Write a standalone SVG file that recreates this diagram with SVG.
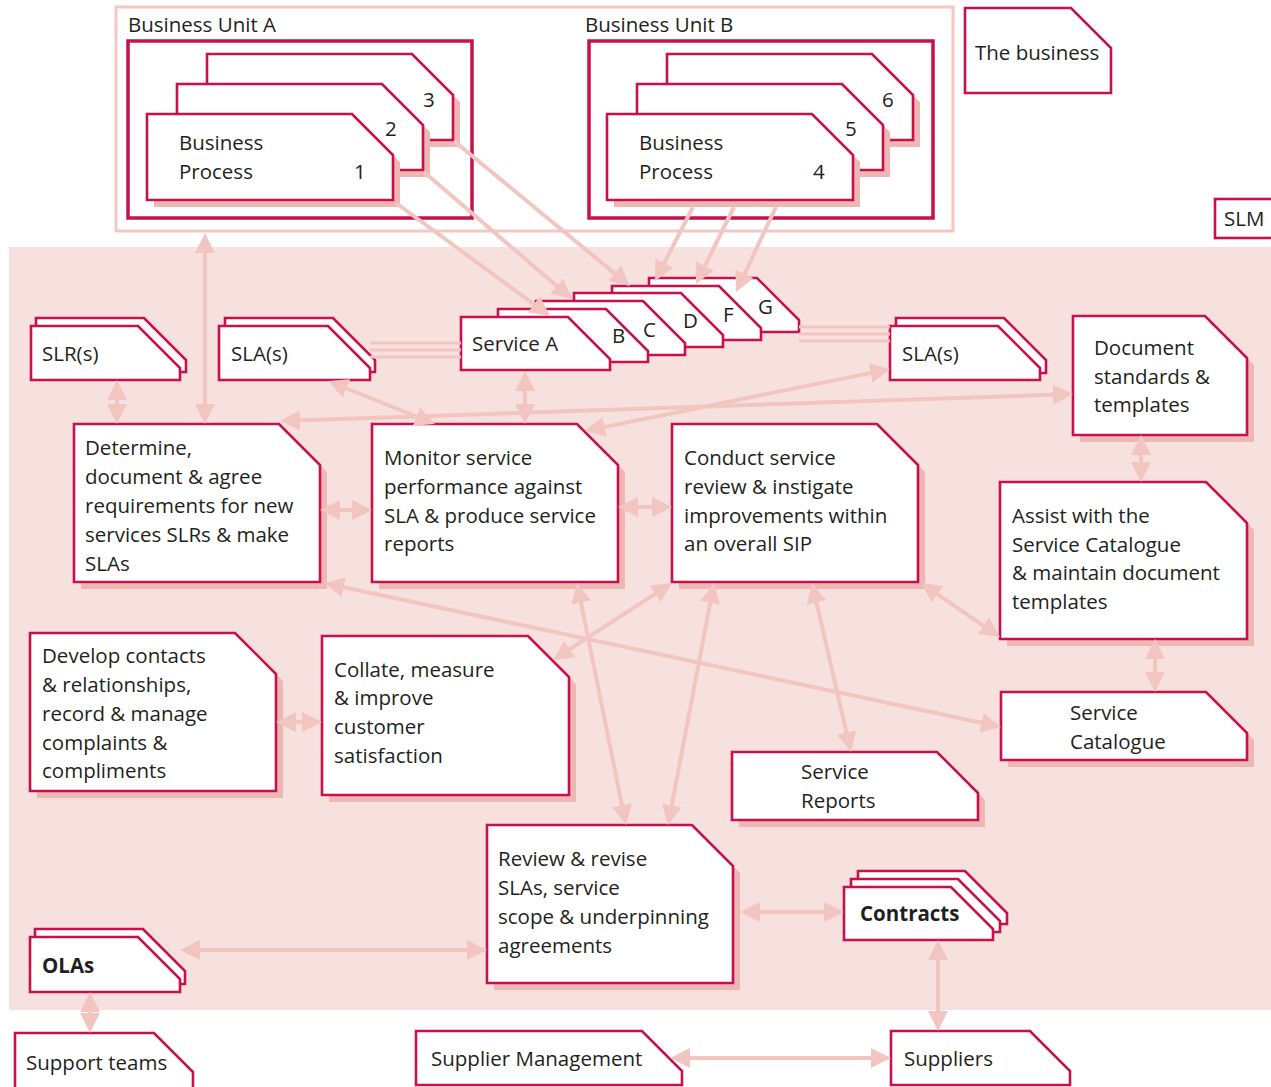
<svg xmlns="http://www.w3.org/2000/svg" width="1271" height="1087" viewBox="0 0 1271 1087">
<style>
.card{fill:#fff;stroke:#c8104a;stroke-width:2.6}
.sh{fill:#efb7b3}
.bu{fill:none;stroke:#c8104a;stroke-width:3.5}
.frame{fill:#fff;stroke:#f3c8c4;stroke-width:3}
text{font-family:"Open Sans","Noto Sans",sans-serif;font-size:20.5px;fill:#231f20}
.b{font-weight:bold}
.conn{stroke:#f2c5c1;stroke-width:4;fill:none;marker-start:url(#ah);marker-end:url(#ah)}
.one{marker-start:none}
.thin{stroke:#f2c5c1;stroke-width:2.8;fill:none}
</style>
<defs>
<marker id="ah" viewBox="0 0 20 20" refX="12" refY="10" markerWidth="20" markerHeight="20" markerUnits="userSpaceOnUse" orient="auto-start-reverse"><path d="M0,0 L20,10 L0,20 z" fill="#f2c5c1"/></marker>
</defs>
<rect x="0" y="0" width="1271" height="1087" fill="#fff"/>
<rect id="slm-area" x="9" y="247" width="1262" height="763" fill="#f7e1df"/>

<g id="the-business-frame">
<rect class="frame" x="116" y="7" width="837" height="224"/>
</g>
<g id="business-unit-a">
<text x="128" y="32">Business Unit A</text>
<rect class="bu" x="128" y="41" width="344" height="177"/>
<path class="sh" transform="translate(7,7)" d="M207 54 H412 L453 95 V140 H207 Z"/>
<path class="card" d="M207 54 H412 L453 95 V140 H207 Z"/>
<text x="423" y="107">3</text>
<path class="sh" transform="translate(7,7)" d="M177 84 H382 L423 125 V170 H177 Z"/>
<path class="card" d="M177 84 H382 L423 125 V170 H177 Z"/>
<text x="385" y="136">2</text>
<path class="sh" transform="translate(7,7)" d="M147 114 H352 L393 155 V200 H147 Z"/>
<path class="card" d="M147 114 H352 L393 155 V200 H147 Z"/>
<text x="179" y="150">Business</text>
<text x="179" y="179">Process</text>
<text x="354" y="179">1</text>
</g>
<g id="business-unit-b">
<text x="585" y="32">Business Unit B</text>
<rect class="bu" x="589" y="41" width="344" height="177"/>
<path class="sh" transform="translate(7,7)" d="M667 54 H872 L913 95 V140 H667 Z"/>
<path class="card" d="M667 54 H872 L913 95 V140 H667 Z"/>
<text x="882" y="107">6</text>
<path class="sh" transform="translate(7,7)" d="M637 84 H842 L883 125 V170 H637 Z"/>
<path class="card" d="M637 84 H842 L883 125 V170 H637 Z"/>
<text x="845" y="136">5</text>
<path class="sh" transform="translate(7,7)" d="M607 114 H812 L853 155 V200 H607 Z"/>
<path class="card" d="M607 114 H812 L853 155 V200 H607 Z"/>
<text x="639" y="150">Business</text>
<text x="639" y="179">Process</text>
<text x="813" y="179">4</text>
</g>
<g id="the-business">
<path class="card" d="M965 8 H1071 L1111 48 V93 H965 Z"/>
<text x="975" y="60">The business</text>
</g>
<g id="slm">
<rect class="card" x="1215" y="199" width="70" height="39"/>
<text x="1224" y="226">SLM</text>
</g>

<g id="slrs">
<path class="card" d="M36 318 H144 L186 360 V372 H36 Z"/>
<path class="card" d="M31 326 H138 L180 368 V380 H31 Z"/>
<text x="42" y="361">SLR(s)</text>
</g>
<g id="slas-left">
<path class="card" d="M225 318 H333 L375 360 V372 H225 Z"/>
<path class="card" d="M219 326 H328 L370 368 V380 H219 Z"/>
<text x="231" y="361">SLA(s)</text>
</g>
<g id="slas-right">
<path class="card" d="M896 318 H1004 L1046 360 V373 H896 Z"/>
<path class="card" d="M890 326 H998 L1040 368 V380 H890 Z"/>
<text x="902" y="361">SLA(s)</text>
</g>
<g id="services">
<path class="card" d="M649 278 H757 L799 320 V332 H649 Z"/>
<text x="758" y="314">G</text>
<path class="card" d="M612 286 H719 L761 328 V340 H612 Z"/>
<text x="723" y="322">F</text>
<path class="card" d="M574 293 H681 L723 335 V347 H574 Z"/>
<text x="683" y="328">D</text>
<path class="card" d="M536 301 H643 L685 343 V355 H536 Z"/>
<text x="643" y="337">C</text>
<path class="card" d="M498 309 H606 L648 351 V362 H498 Z"/>
<text x="612" y="343">B</text>
<path class="card" d="M461 317 H568 L610 359 V370 H461 Z"/>
<text x="472" y="351">Service A</text>
</g>
<g id="document-standards">
<path class="sh" transform="translate(7,7)" d="M1073 316 H1205 L1247 358 V435 H1073 Z"/>
<path class="card" d="M1073 316 H1205 L1247 358 V435 H1073 Z"/>
<text x="1094" y="355">Document</text>
<text x="1094" y="384">standards &amp;</text>
<text x="1094" y="412">templates</text>
</g>
<g id="determine">
<path class="sh" transform="translate(7,7)" d="M74 424 H279 L320 465 V582 H74 Z"/>
<path class="card" d="M74 424 H279 L320 465 V582 H74 Z"/>
<text x="85" y="455">Determine,</text>
<text x="85" y="484">document &amp; agree</text>
<text x="85" y="513">requirements for new</text>
<text x="85" y="542">services SLRs &amp; make</text>
<text x="85" y="571">SLAs</text>
</g>
<g id="monitor">
<path class="sh" transform="translate(7,7)" d="M372 424 H577 L618 465 V582 H372 Z"/>
<path class="card" d="M372 424 H577 L618 465 V582 H372 Z"/>
<text x="384" y="465">Monitor service</text>
<text x="384" y="494">performance against</text>
<text x="384" y="523">SLA &amp; produce service</text>
<text x="384" y="551">reports</text>
</g>
<g id="conduct">
<path class="sh" transform="translate(7,7)" d="M672 424 H877 L918 465 V582 H672 Z"/>
<path class="card" d="M672 424 H877 L918 465 V582 H672 Z"/>
<text x="684" y="465">Conduct service</text>
<text x="684" y="494">review &amp; instigate</text>
<text x="684" y="523">improvements within</text>
<text x="684" y="551">an overall SIP</text>
</g>
<g id="assist">
<path class="sh" transform="translate(7,7)" d="M1000 482 H1206 L1247 523 V639 H1000 Z"/>
<path class="card" d="M1000 482 H1206 L1247 523 V639 H1000 Z"/>
<text x="1012" y="523">Assist with the</text>
<text x="1012" y="552">Service Catalogue</text>
<text x="1012" y="580">&amp; maintain document</text>
<text x="1012" y="609">templates</text>
</g>
<g id="service-catalogue">
<path class="sh" transform="translate(7,7)" d="M1001 692 H1206 L1247 733 V760 H1001 Z"/>
<path class="card" d="M1001 692 H1206 L1247 733 V760 H1001 Z"/>
<text x="1070" y="720">Service</text>
<text x="1070" y="749">Catalogue</text>
</g>
<g id="service-reports">
<path class="sh" transform="translate(7,7)" d="M732 752 H937 L978 793 V820 H732 Z"/>
<path class="card" d="M732 752 H937 L978 793 V820 H732 Z"/>
<text x="801" y="779">Service</text>
<text x="801" y="808">Reports</text>
</g>
<g id="develop">
<path class="sh" transform="translate(7,7)" d="M30 633 H235 L276 674 V791 H30 Z"/>
<path class="card" d="M30 633 H235 L276 674 V791 H30 Z"/>
<text x="42" y="663">Develop contacts</text>
<text x="42" y="692">&amp; relationships,</text>
<text x="42" y="721">record &amp; manage</text>
<text x="42" y="750">complaints &amp;</text>
<text x="42" y="778">compliments</text>
</g>
<g id="collate">
<path class="sh" transform="translate(7,7)" d="M322 636 H528 L569 677 V795 H322 Z"/>
<path class="card" d="M322 636 H528 L569 677 V795 H322 Z"/>
<text x="334" y="677">Collate, measure</text>
<text x="334" y="705">&amp; improve</text>
<text x="334" y="734">customer</text>
<text x="334" y="763">satisfaction</text>
</g>
<g id="review">
<path class="sh" transform="translate(7,7)" d="M487 825 H692 L733 866 V983 H487 Z"/>
<path class="card" d="M487 825 H692 L733 866 V983 H487 Z"/>
<text x="498" y="866">Review &amp; revise</text>
<text x="498" y="895">SLAs, service</text>
<text x="498" y="924">scope &amp; underpinning</text>
<text x="498" y="953">agreements</text>
</g>
<g id="olas">
<path class="card" d="M35 929 H143 L185 971 V984 H35 Z"/>
<path class="card" d="M30 937 H138 L180 979 V992 H30 Z"/>
<text class="b" x="42" y="973">OLAs</text>
</g>
<g id="contracts">
<path class="card" d="M858 871 H965 L1007 913 V924 H858 Z"/>
<path class="card" d="M851 879 H958 L1000 921 V932 H851 Z"/>
<path class="card" d="M844 887 H951 L993 929 V940 H844 Z"/>
<text class="b" x="860" y="921">Contracts</text>
</g>
<g id="support-teams">
<path class="card" d="M15 1033 H154 L193 1072 V1095 H15 Z"/>
<text x="26" y="1070">Support teams</text>
</g>
<g id="supplier-management">
<path class="card" d="M416 1031 H642 L682 1071 V1085 H416 Z"/>
<text x="431" y="1066">Supplier Management</text>
</g>
<g id="suppliers">
<path class="card" d="M891 1031 H1030 L1070 1071 V1085 H891 Z"/>
<text x="904" y="1066">Suppliers</text>
</g>

<g id="connectors">
<path class="thin" d="M370 343 H461 M370 350 H461 M370 357 H461"/>
<path class="thin" d="M799 327 H890 M799 334 H890 M799 341 H890"/>
<path class="conn" d="M205 241 V416"/>
<path class="conn one" d="M396 203 L543.6 311.3"/>
<path class="conn one" d="M424 172 L565.9 293.8"/>
<path class="conn one" d="M454 141 L623.8 280.9"/>
<path class="conn one" d="M693 207 L658.7 273.9"/>
<path class="conn one" d="M734 207 L699.5 276.8"/>
<path class="conn one" d="M776 207 L739.4 284.8"/>
<path class="conn" d="M117 388 V416"/>
<path class="conn" d="M335.4 384 L427.6 421"/>
<path class="conn" d="M525 379 V416"/>
<path class="conn" d="M288 420.7 L1065 394.3"/>
<path class="conn" d="M592.8 429.4 L882.2 370.6"/>
<path class="conn" d="M328 510 H364"/>
<path class="conn" d="M626 507 H664"/>
<path class="conn" d="M331.8 584.7 L993.2 725.3"/>
<path class="conn" d="M284 722 H314"/>
<path class="conn" d="M665.3 587.3 L559.7 655.7"/>
<path class="conn" d="M578.6 590.8 L624.4 817.2"/>
<path class="conn" d="M712.5 590.9 L669.5 817.1"/>
<path class="conn" d="M813.8 590.8 L849.2 744.2"/>
<path class="conn" d="M927.6 587.5 L993.4 632.5"/>
<path class="conn" d="M1141 443 V474"/>
<path class="conn" d="M1155 647 V684"/>
<path class="conn" d="M188 950 H479"/>
<path class="conn" d="M748 912 H836"/>
<path class="conn" d="M90 1000 V1025"/>
<path class="conn" d="M938 948 V1023"/>
<path class="conn" d="M678 1058 H883"/>
</g>
</svg>
